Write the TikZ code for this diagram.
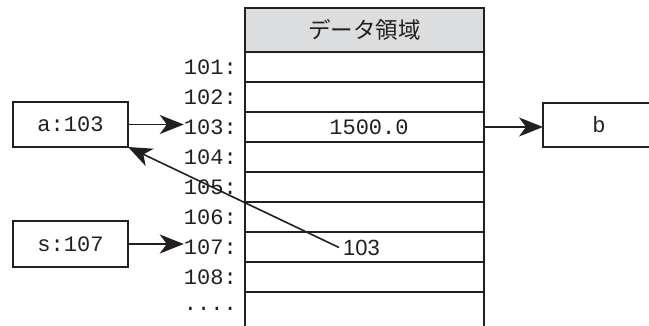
\documentclass[tikz,border=0pt]{standalone}
\usepackage{fontspec}
\setmonofont{Liberation Mono}
\setsansfont{Liberation Sans}
\newfontfamily\jpfont{Noto Sans CJK JP}
\usetikzlibrary{arrows.meta}
\definecolor{ink}{HTML}{231F20}
\definecolor{headgray}{HTML}{DCDDDE}
\begin{document}
\begin{tikzpicture}[x=1pt,y=-1pt,
  cell/.style={draw=ink, line width=1.8pt, minimum width=239pt, minimum height=30pt, inner sep=0pt, outer sep=0pt, anchor=north west},
  headcell/.style={cell, fill=headgray, minimum height=44pt},
  addr/.style={font=\ttfamily\fontsize{22}{22}\selectfont, text=ink, anchor=east, inner sep=0pt},
  monotext/.style={font=\ttfamily\fontsize{22}{22}\selectfont, text=ink, inner sep=0pt},
  varbox/.style={draw=ink, line width=1.8pt, minimum width=115pt, minimum height=45pt, inner sep=0pt, outer sep=0pt, font=\ttfamily\fontsize{22}{22}\selectfont, text=ink},
  ptr/.style={draw=ink, line width=1.6pt, -{Stealth[length=24pt,width=19pt,inset=7pt]}}]
\useasboundingbox (0,0) rectangle (649,326);
% table
\node[headcell] (head) at (245,8) {};
\node[font=\jpfont\fontsize{22.5}{22.5}\selectfont, text=ink] (htitle) at (head.center) {データ領域};
\foreach \i in {1,...,8} {
  \node[cell] (r10\i) at (245,{52+30*(\i-1)}) {};
  \node[addr] (l10\i) at (237,{67+30*(\i-1)}) {10\i:};
}
\coordinate (bottom) at (245,330);
\draw[ink, line width=1.8pt] (r108.south west) -- (r108.south west |- bottom);
\draw[ink, line width=1.8pt] (r108.south east) -- (r108.south east |- bottom);
\node[monotext, anchor=base east] (ldots) at (237,311) {....};
% values
\node[monotext] (v103) at (369,127) {1500.0};
\node[font=\sffamily\fontsize{22}{22}\selectfont, text=ink, anchor=west, inner xsep=4pt, inner ysep=0pt] (v107) at (339,247.5) {103};
% variable boxes
\node[varbox] (a) at (70.5,124.5) {a:103};
\node[varbox, minimum height=46pt] (s) at (70.5,244) {s:107};
\node[varbox, minimum width=112pt, minimum height=44pt] (b) at (599,125) {b};
% arrows
\draw[ptr] (a.east) -- (a.east -| l103.west);
\draw[ptr] (s.east) -- (s.east -| l107.west);
\draw[ptr] (r103.east) -- (r103.east -| b.west);
\draw[ptr] (v107.west) -- (a.south east);
\end{tikzpicture}
\end{document}
